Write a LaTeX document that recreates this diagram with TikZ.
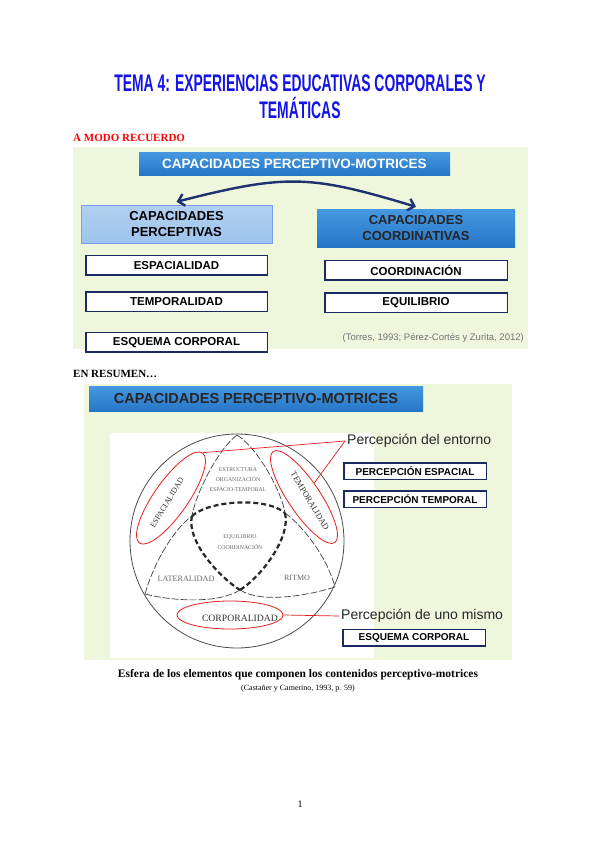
\documentclass[tikz,border=0pt]{standalone}
\usepackage{fontspec}
\setmainfont{Liberation Serif}
\setsansfont{Liberation Sans}
\usepackage{tikz}
\usetikzlibrary{positioning,arrows.meta,shapes.geometric}

\definecolor{panelgreen}{RGB}{238,246,219}
\definecolor{barblue}{RGB}{70,152,225}
\definecolor{barbluedark}{RGB}{38,118,198}
\definecolor{lightblue}{RGB}{158,196,236}
\definecolor{navy}{RGB}{28,42,100}
\definecolor{arrownavy}{RGB}{30,50,112}
\definecolor{titleblue}{RGB}{20,20,230}
\definecolor{sphgray}{RGB}{105,105,105}
\definecolor{ringred}{RGB}{230,30,30}

\begin{document}
\begin{tikzpicture}[x=1pt, y=-1pt,
  >={Straight Barb[length=6pt,width=12pt]},
  bluebar/.style={top color=barblue, bottom color=barbluedark, inner sep=0pt,
              font=\sffamily\bfseries\fontsize{13.5}{16}\selectfont},
  capbox/.style={minimum height=38pt, inner sep=0pt, align=center,
              font=\sffamily\bfseries\fontsize{13}{16}\selectfont},
  itembox/.style={draw=navy, line width=1.5pt, fill=white, minimum height=19.5pt,
              inner sep=0pt, font=\sffamily\bfseries\fontsize{11.5}{13}\selectfont},
  smallitem/.style={itembox, minimum width=142.5pt, minimum height=16.5pt,
              font=\sffamily\bfseries\fontsize{10}{12}\selectfont},
  sphlabel/.style={text=sphgray, inner sep=0pt, align=center},
  ring/.style={ellipse, draw=ringred, line width=0.8pt, inner sep=0pt},
  redline/.style={draw=ringred, line width=0.7pt},
  meridian/.style={draw=black!75, line width=0.7pt, dash pattern=on 7pt off 2pt},
  frontarc/.style={draw=black!85, line width=2.2pt, dash pattern=on 5pt off 3pt},
  callout/.style={anchor=west, inner sep=2pt, text=black!85,
              font=\sffamily\fontsize{14}{16}\selectfont}]

\useasboundingbox (0,0) rectangle (600,848);
\fill[white] (0,0) rectangle (600,848);

% headings
\node[anchor=base, inner sep=0pt, text=titleblue,
      font=\sffamily\bfseries\fontsize{24}{28}\selectfont] (title1) at (300,92)
  {\scalebox{0.579}[1]{TEMA 4: EXPERIENCIAS EDUCATIVAS CORPORALES Y}};
\node[anchor=base, inner sep=0pt, text=titleblue,
      font=\sffamily\bfseries\fontsize{24}{28}\selectfont] (title2) at (300,118)
  {\scalebox{0.579}[1]{TEMÁTICAS}};
\node[anchor=base west, inner sep=0pt, text=red,
      font=\bfseries\fontsize{11}{13}\selectfont] (recuerdo) at (73,141) {A MODO RECUERDO};

% first panel
\fill[panelgreen] (73,147) rectangle (528,349);
\node[bluebar, text=white, minimum width=311pt, minimum height=23pt] (cpm) at (294.5,163.5)
  {CAPACIDADES PERCEPTIVO-MOTRICES};
\node[capbox, top color=lightblue!80!white, bottom color=lightblue, draw=lightblue!80!blue,
      minimum width=191pt] (perc) at (176.5,224) {CAPACIDADES\\PERCEPTIVAS};
\node[capbox, top color=barblue, bottom color=barbluedark, text=black!85,
      minimum width=198pt] (coord) at (416,228) {CAPACIDADES\\COORDINATIVAS};

\node[itembox, minimum width=181.5pt, below=11.5pt of perc] (espa) {ESPACIALIDAD};
\node[itembox, minimum width=181.5pt, below=15.5pt of espa] (temp) {TEMPORALIDAD};
\node[itembox, minimum width=181.5pt, below=19.5pt of temp] (esq) {ESQUEMA CORPORAL};
\node[itembox, minimum width=182.5pt, below=12.5pt of coord] (coo) {COORDINACIÓN};
\node[itembox, minimum width=182.5pt, below=11.5pt of coo] (equ) {EQUILIBRIO};

\node[anchor=base east, inner sep=0pt, text=black!55,
      font=\sffamily\fontsize{9.5}{11}\selectfont] (cita) at (524,340)
  {(Torres, 1993; Pérez-Cortés y Zurita, 2012)};

\draw[<->, arrownavy, line width=2.4pt] ([yshift=3pt]perc.north)
  .. controls +(110,-28) and +(-106,-32) .. ([yshift=2pt]coord.north);

% second panel
\node[anchor=base west, inner sep=0pt,
      font=\bfseries\fontsize{11}{13}\selectfont] (resumen) at (73,377) {EN RESUMEN…};
\fill[panelgreen] (84,384) rectangle (512,660);
\node[bluebar, text=black!85, minimum width=334pt, minimum height=25pt,
      font=\sffamily\bfseries\fontsize{14.5}{16}\selectfont] (cpm2) at (256,398.5)
  {CAPACIDADES PERCEPTIVO-MOTRICES};
\fill[white] (110,433) rectangle (374,658);

% sphere
\draw[black!70, line width=0.8pt] (237,541) circle[radius=107pt];
\coordinate (T) at (237,435);
\coordinate (L) at (145,594);
\coordinate (R) at (335,587);
\coordinate (C1) at (192,516);
\coordinate (C2) at (285,513);
\coordinate (C3) at (240,590);

\draw[meridian] (L) .. controls (154,562) and (174,529) .. (C1);
\draw[frontarc] (C1) .. controls (210,500) and (267,497) .. (C2);
\draw[meridian] (C2) .. controls (303,526) and (327,557) .. (R);
\draw[meridian] (T) .. controls (217,450) and (195,496) .. (C1);
\draw[frontarc] (C1) .. controls (186,540) and (218,576) .. (C3);
\draw[meridian] (C3) .. controls (262,604) and (310,595) .. (R);
\draw[meridian] (T) .. controls (259,449) and (282,493) .. (C2);
\draw[frontarc] (C2) .. controls (291,537) and (262,576) .. (C3);
\draw[meridian] (C3) .. controls (218,604) and (172,601) .. (L);

\node[sphlabel, font=\fontsize{5.8}{10}\selectfont] (estr) at (238,480)
  {ESTRUCTURA\\ORGANIZACIÓN\\ESPACIO-TEMPORAL};
\node[sphlabel, font=\fontsize{5.8}{10.5}\selectfont] (equi) at (240,542)
  {EQUILIBRIO\\COORDINACIÓN};
\node[sphlabel, font=\fontsize{8.2}{9}\selectfont] (lat) at (186,579) {LATERALIDAD};
\node[sphlabel, font=\fontsize{8}{9}\selectfont] (ritmo) at (297,578) {RITMO};

\node[ring, rotate=55, minimum width=110pt, minimum height=34pt] (espring) at (171,498) {};
\node[ring, rotate=-56, minimum width=110pt, minimum height=32pt] (tempring) at (304,497) {};
\node[ring, minimum width=106pt, minimum height=28pt] (corpring) at (230,615) {};
\node[sphlabel, text=black!80, rotate=59, font=\fontsize{8}{9}\selectfont] (espt) at (167,503) {ESPACIALIDAD};
\node[sphlabel, text=black!80, rotate=-59, font=\fontsize{8.5}{9}\selectfont] (tempt) at (310,501) {TEMPORALIDAD};
\node[sphlabel, text=black!80, font=\fontsize{9.7}{10}\selectfont] (corpt) at (240,618) {CORPORALIDAD};

% callouts
\node[callout] (entorno) at (345,441) {Percepción del entorno};
\node[callout] (mismo) at (339,616) {Percepción de uno mismo};
\draw[redline] (entorno.west) -- (espring.east);
\draw[redline] (entorno.west) -- (tempring);
\draw[redline] (corpring.east) -- (mismo.west);

\node[smallitem] (pesp) at (415,471) {PERCEPCIÓN ESPACIAL};
\node[smallitem] (ptem) at (415,499) {PERCEPCIÓN TEMPORAL};
\node[smallitem] (pesq) at (414,637.5) {ESQUEMA CORPORAL};

% caption
\node[anchor=base, inner sep=0pt, font=\bfseries\fontsize{11.5}{13}\selectfont] (cap1) at (298,677)
  {Esfera de los elementos que componen los contenidos perceptivo-motrices};
\node[anchor=base, inner sep=0pt, font=\fontsize{8}{10}\selectfont] (cap2) at (298,690)
  {(Castañer y Camerino, 1993, p. 59)};
\node[anchor=base, inner sep=0pt, font=\fontsize{10}{12}\selectfont] (pnum) at (300,807) {1};
\end{tikzpicture}
\end{document}
